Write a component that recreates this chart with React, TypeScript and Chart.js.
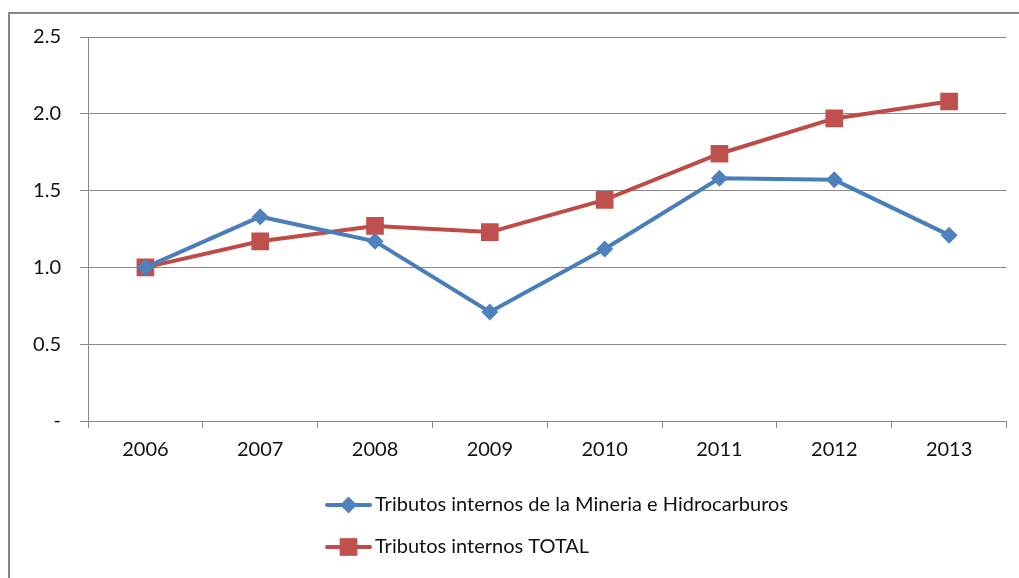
import React, { useEffect, useRef } from "react";
import { Chart, registerables } from "chart.js";

Chart.register(...registerables);

const categories = ["2006", "2007", "2008", "2009", "2010", "2011", "2012", "2013"];
const mineria = [1.0, 1.33, 1.17, 0.71, 1.12, 1.58, 1.57, 1.21];
const total = [1.0, 1.17, 1.27, 1.23, 1.44, 1.74, 1.97, 2.08];
const seriesLabels = [
  "Tributos internos de la Mineria e Hidrocarburos",
  "Tributos internos TOTAL",
];
const yMin = 0;
const yMax = 2.5;
const yStep = 0.5;

const FONT = "Lato, 'Open Sans', sans-serif";
const GRID = "#8a8a8a";
const BLUE_LINE = "#4a7ebb";
const BLUE_PT = "#4f81bd";
const RED_LINE = "#be4b48";
const RED_PT = "#c0504d";

function drawMarker(ctx: CanvasRenderingContext2D, style: string, x: number, y: number, r: number) {
  ctx.beginPath();
  if (style === "rectRot") {
    ctx.moveTo(x, y - r);
    ctx.lineTo(x + r, y);
    ctx.lineTo(x, y + r);
    ctx.lineTo(x - r, y);
  } else {
    const s = Math.SQRT1_2 * r;
    ctx.rect(x - s, y - s, 2 * s, 2 * s);
  }
  ctx.closePath();
  ctx.fill();
}

const legendPlugin = {
  id: "customLegend",
  afterDraw(chart: any) {
    const ctx = chart.ctx;
    const rows = [
      { y: 505, ds: chart.data.datasets[0] },
      { y: 547, ds: chart.data.datasets[1] },
    ];
    ctx.save();
    rows.forEach((r) => {
      const ds: any = r.ds;
      ctx.strokeStyle = ds.borderColor;
      ctx.lineWidth = 4;
      ctx.lineCap = "round";
      ctx.beginPath();
      ctx.moveTo(327, r.y);
      ctx.lineTo(370, r.y);
      ctx.stroke();
      ctx.fillStyle = ds.pointBackgroundColor;
      drawMarker(ctx, ds.pointStyle, 348.5, r.y, ds.pointRadius);
      ctx.fillStyle = "#111";
      ctx.font = `20px ${FONT}`;
      ctx.textAlign = "left";
      ctx.textBaseline = "middle";
      ctx.fillText(ds.label, 375, r.y);
    });
    ctx.restore();
  },
};

export default function App() {
  const canvasRef = useRef<HTMLCanvasElement | null>(null);

  useEffect(() => {
    if (!canvasRef.current) return;
    const chart = new Chart(canvasRef.current, {
      type: "line",
      data: {
        labels: categories,
        datasets: [
          {
            label: seriesLabels[0],
            data: mineria,
            borderColor: BLUE_LINE,
            backgroundColor: BLUE_PT,
            pointBackgroundColor: BLUE_PT,
            pointBorderColor: BLUE_PT,
            pointBorderWidth: 0,
            borderWidth: 4,
            pointStyle: "rectRot",
            pointRadius: 8.5,
            tension: 0,
          },
          {
            label: seriesLabels[1],
            data: total,
            borderColor: RED_LINE,
            backgroundColor: RED_PT,
            pointBackgroundColor: RED_PT,
            pointBorderColor: RED_PT,
            pointBorderWidth: 0,
            borderWidth: 4,
            pointStyle: "rect",
            pointRadius: 12.5,
            tension: 0,
          },
        ],
      },
      options: {
        responsive: false,
        animation: false,
        layout: { padding: { left: 0, top: 37, right: 12, bottom: 0 } },
        plugins: {
          legend: { display: false },
          tooltip: { enabled: false },
          title: { display: false },
        },
        scales: {
          x: {
            type: "category",
            offset: true,
            grid: {
              offset: true,
              drawOnChartArea: false,
              drawTicks: true,
              tickLength: 7,
              color: GRID,
              lineWidth: 1,
            },
            border: { display: true, color: GRID, width: 1 },
            ticks: {
              color: "#111",
              font: { family: FONT, size: 20 },
              padding: 10,
              maxRotation: 0,
            },
            afterFit: (scale: any) => {
              scale.height = 157;
            },
          },
          y: {
            min: yMin,
            max: yMax,
            grid: {
              color: GRID,
              lineWidth: 1,
              drawTicks: true,
              tickLength: 8,
            },
            border: { display: true, color: GRID, width: 1 },
            ticks: {
              stepSize: yStep,
              color: "#111",
              font: { family: FONT, size: 20 },
              padding: 19,
              callback: (v: any) => (Number(v) === 0 ? "-" : Number(v).toFixed(1)),
            },
            afterFit: (scale: any) => {
              scale.width = 88;
            },
          },
        },
      },
      plugins: [legendPlugin],
    } as any);
    return () => chart.destroy();
  }, []);

  return (
    <div
      style={{
        position: "fixed",
        left: 0,
        top: 0,
        width: 1019,
        height: 578,
        overflow: "hidden",
        background: "#fff",
      }}
    >
      <div
        style={{
          position: "absolute",
          left: 8,
          top: 12,
          width: 1200,
          height: 800,
          borderTop: "2px solid #868686",
          borderLeft: "2px solid #868686",
        }}
      />
      <canvas
        ref={canvasRef}
        width={1019}
        height={578}
        style={{ position: "absolute", left: 0, top: 0, width: 1019, height: 578 }}
      />
    </div>
  );
}
